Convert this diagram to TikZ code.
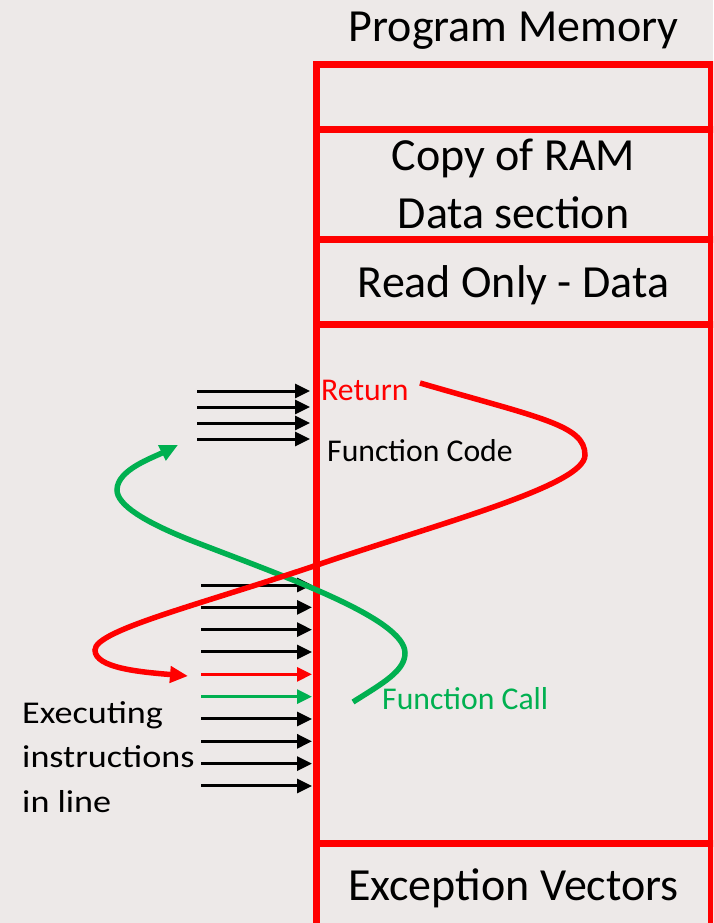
\documentclass[tikz,border=0pt]{standalone}
\usepackage{fontspec}
\setmainfont{Carlito}
\usetikzlibrary{arrows.meta, positioning}

\definecolor{boardbg}{RGB}{237,233,232}
\definecolor{callgreen}{RGB}{0,176,80}

\tikzset{
  memsec/.style={draw=red, line width=7pt, minimum width=395pt, inner sep=0pt},
  bigtxt/.style={font=\fontsize{46}{58}\selectfont, anchor=base, inner sep=0pt, align=center},
  smalltxt/.style={font=\fontsize{31.7}{44.5}\selectfont, anchor=base west, inner sep=0pt, align=left},
  flow/.style={line width=5.5pt, -{Triangle[length=18pt, width=16pt]}}
}

\begin{document}
\begin{tikzpicture}[x=1pt, y=-1pt, >={Triangle[length=15pt, width=14pt]}]
\useasboundingbox (0,0) rectangle (713,923);
\fill[boardbg] (0,0) rectangle (713,923);
\clip (0,0) rectangle (713,923);

% instructions running in line
\foreach \i/\col in {0/black,1/black,2/black,3/black,4/red,5/callgreen,6/black,7/black,8/black,9/black}
{
    \coordinate (in\i) at (201,585+22.33*\i);
    \coordinate (out\i) at (312,585+22.33*\i);
    \draw[->, line width=3pt, \col] (in\i) -- (out\i);
}
% instructions of the function
\foreach \j in {0,...,3}
{
    \coordinate (fin\j) at (197,391+16*\j);
    \coordinate (fout\j) at (310,391+16*\j);
    \draw[->, line width=3pt] (fin\j) -- (fout\j);
}

% memory map
\node[bigtxt] (title) at (513.5,42) {Program Memory};
\node[memsec, minimum height=65pt] (blank) at (513.5,97) {};
\node[memsec, minimum height=110pt] (ramcopy) at (513.5,184.5) {};
\node[memsec, minimum height=84.5pt] (rodata) at (513.5,281.75) {};
\node[memsec, minimum height=519.5pt] (code) at (513.5,583.75) {};
\node[memsec, minimum height=136.5pt] (vectors) at (513.5,911.75) {};

% multi-line nodes sit on their last baseline
\node[bigtxt] (ramtxt) at (513.5,228) {Copy of RAM\\Data section};
\node[bigtxt] (rotxt) at (513.5,297) {Read Only - Data};
\node[bigtxt] (vectxt) at (513.5,900) {Exception Vectors};

% call and return
\coordinate (callfrom) at (353,702);
\coordinate (callto) at (178,445);
\coordinate (retfrom) at (420,383);
\coordinate (retto) at (188,676);

\draw[callgreen, flow] (callfrom) .. controls (383,683) and (405,671) .. (405,653)
    .. controls (405,618) and (280,575) .. (190,540)
    .. controls (145,522) and (117,505) .. (117,490)
    .. controls (117,470) and (152,458) .. (callto);
\draw[red, flow] (retfrom) .. controls (540,418) and (585,425) .. (585,455)
    .. controls (585,485) and (444,522) .. (323,563)
    .. controls (203,604) and (95,630) .. (95,650)
    .. controls (95,668) and (140,672) .. (retto);

\node[smalltxt, red] (ret) at (321,400.5) {Return};
\node[smalltxt] (fcode) at (327,461) {Function Code};
\node[smalltxt, callgreen] (fcall) at (382,709) {Function Call};
\node[smalltxt, transform shape, xscale=1.14] (exec) at (22,812) {Executing\\instructions\\in line};

\end{tikzpicture}
\end{document}
